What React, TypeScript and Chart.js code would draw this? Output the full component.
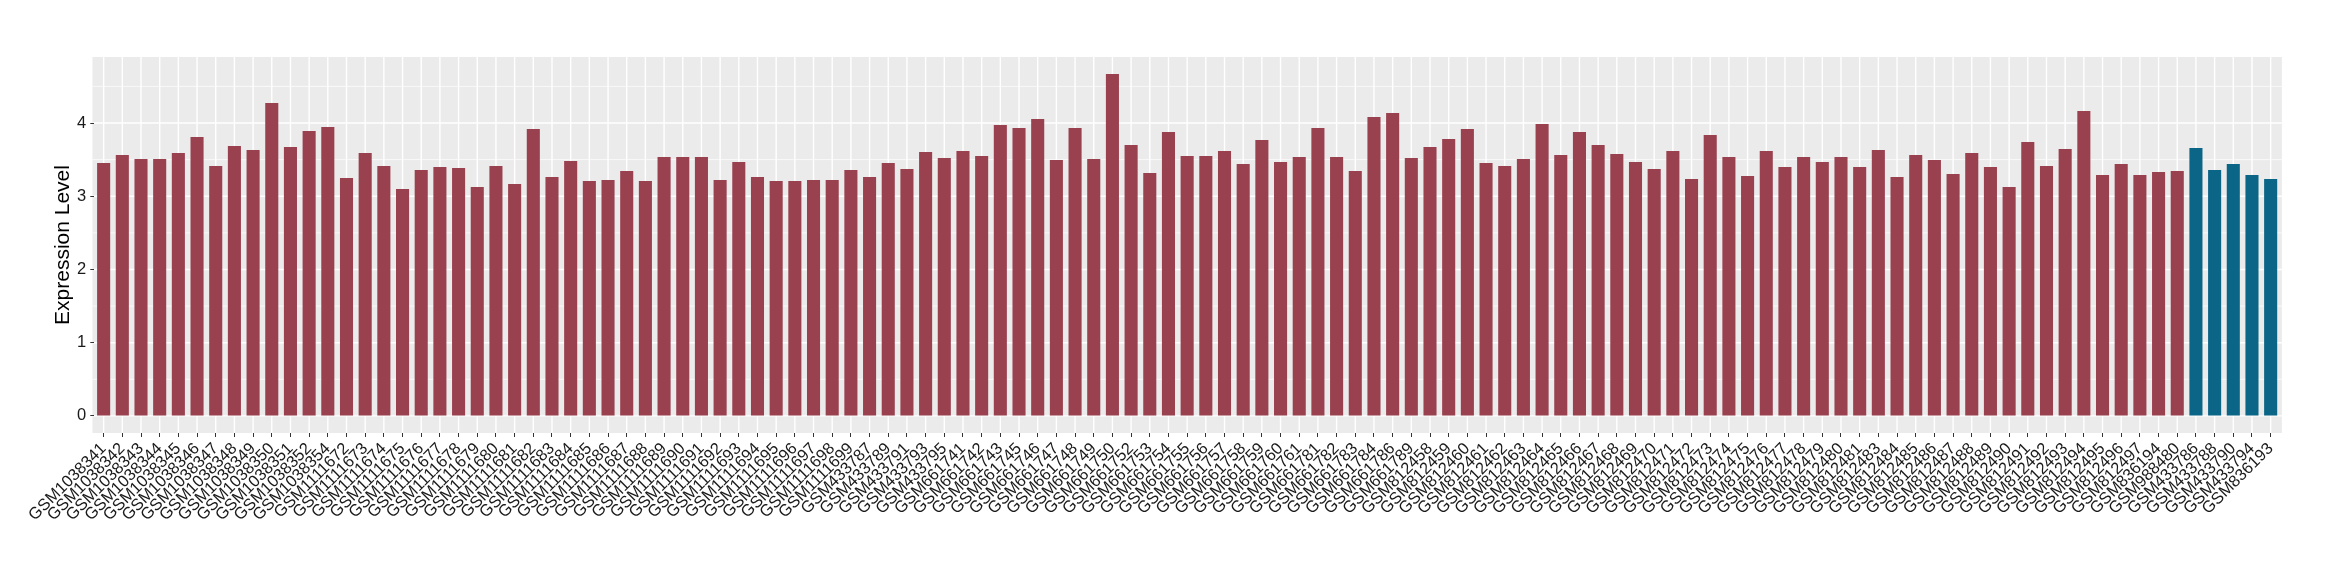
import React, { useEffect, useRef } from "react";
import { Chart, registerables } from "chart.js";

Chart.register(...registerables);

const samples: string[] = [
  "GSM1038341", "GSM1038342", "GSM1038343", "GSM1038344", "GSM1038345", "GSM1038346", "GSM1038347",
  "GSM1038348", "GSM1038349", "GSM1038350", "GSM1038351", "GSM1038352", "GSM1038354",
  "GSM1111672", "GSM1111673", "GSM1111674", "GSM1111675", "GSM1111676", "GSM1111677", "GSM1111678",
  "GSM1111679", "GSM1111680", "GSM1111681", "GSM1111682", "GSM1111683", "GSM1111684", "GSM1111685",
  "GSM1111686", "GSM1111687", "GSM1111688", "GSM1111689", "GSM1111690", "GSM1111691", "GSM1111692",
  "GSM1111693", "GSM1111694", "GSM1111695", "GSM1111696", "GSM1111697", "GSM1111698", "GSM1111699",
  "GSM433787", "GSM433789", "GSM433791", "GSM433793", "GSM433795",
  "GSM661741", "GSM661742", "GSM661743", "GSM661745", "GSM661746", "GSM661747", "GSM661748",
  "GSM661749", "GSM661750", "GSM661752", "GSM661753", "GSM661754", "GSM661755", "GSM661756",
  "GSM661757", "GSM661758", "GSM661759", "GSM661760", "GSM661761", "GSM661781", "GSM661782",
  "GSM661783", "GSM661784", "GSM661786", "GSM661789",
  "GSM812458", "GSM812459", "GSM812460", "GSM812461", "GSM812462", "GSM812463", "GSM812464",
  "GSM812465", "GSM812466", "GSM812467", "GSM812468", "GSM812469", "GSM812470", "GSM812471",
  "GSM812472", "GSM812473", "GSM812474", "GSM812475", "GSM812476", "GSM812477", "GSM812478",
  "GSM812479", "GSM812480", "GSM812481", "GSM812483", "GSM812484", "GSM812485", "GSM812486",
  "GSM812487", "GSM812488", "GSM812489", "GSM812490", "GSM812491", "GSM812492", "GSM812493",
  "GSM812494", "GSM812495", "GSM812496", "GSM812497", "GSM836194", "GSM988480",
  "GSM433786", "GSM433788", "GSM433790", "GSM433794", "GSM836193",
];

const expression: number[] = [
  3.455, 3.564, 3.509, 3.509, 3.59, 3.81, 3.414, 3.686, 3.632, 4.273, 3.673, 3.891, 3.945,
  3.25, 3.59, 3.414, 3.1, 3.359, 3.4, 3.386, 3.127, 3.414, 3.168, 3.918, 3.264, 3.482, 3.209,
  3.223, 3.345, 3.209, 3.536, 3.536, 3.536, 3.223, 3.468, 3.264, 3.209, 3.209, 3.223, 3.223, 3.359,
  3.264, 3.455, 3.373, 3.605, 3.523,
  3.618, 3.55, 3.973, 3.932, 4.055, 3.495, 3.932, 3.509, 4.668, 3.7, 3.318, 3.877, 3.55, 3.55,
  3.618, 3.441, 3.768, 3.468, 3.536, 3.932, 3.536, 3.345, 4.082, 4.136, 3.523,
  3.673, 3.782, 3.918, 3.455, 3.414, 3.509, 3.986, 3.564, 3.877, 3.7, 3.577, 3.468, 3.373, 3.618,
  3.236, 3.836, 3.536, 3.277, 3.618, 3.4, 3.536, 3.468, 3.536, 3.4, 3.632, 3.264, 3.564, 3.495,
  3.305, 3.59, 3.4, 3.127, 3.741, 3.414, 3.645, 4.164, 3.291, 3.441, 3.291, 3.332, 3.345,
  3.659, 3.359, 3.441, 3.291, 3.236,
];

const controlSamples: string[] = ["GSM433786", "GSM433788", "GSM433790", "GSM433794", "GSM836193"];

const yTicks: number[] = [0, 1, 2, 3, 4];
const yMinorTicks: number[] = [0.5, 1.5, 2.5, 3.5, 4.5];

const caseColor = "#9A4150";
const controlColor = "#0B6586";

export default function App() {
  const ref = useRef<HTMLCanvasElement>(null);

  useEffect(() => {
    document.body.style.margin = "0";
    const canvas = ref.current;
    if (!canvas) return;

    const dataMax = Math.max(...expression);
    const pad = dataMax * 0.05;

    const panelPlugin = {
      id: "ggpanel",
      beforeDraw(chart: any) {
        const { ctx, chartArea, scales } = chart;
        const { top, bottom, left, right } = chartArea;
        const unit = (right - left) / samples.length;
        const pl = left - 0.1 * unit;
        const pr = right + 0.1 * unit;
        ctx.save();
        ctx.fillStyle = "#EBEBEB";
        ctx.fillRect(pl, top, pr - pl, bottom - top);
        ctx.strokeStyle = "#FFFFFF";
        ctx.lineWidth = 0.7;
        for (const v of yMinorTicks) {
          const py = scales.y.getPixelForValue(v);
          ctx.beginPath();
          ctx.moveTo(pl, py);
          ctx.lineTo(pr, py);
          ctx.stroke();
        }
        ctx.lineWidth = 1.4;
        for (const v of yTicks) {
          const py = scales.y.getPixelForValue(v);
          ctx.beginPath();
          ctx.moveTo(pl, py);
          ctx.lineTo(pr, py);
          ctx.stroke();
        }
        for (let i = 0; i < samples.length; i++) {
          const px = scales.x.getPixelForValue(i);
          ctx.beginPath();
          ctx.moveTo(px, top);
          ctx.lineTo(px, bottom);
          ctx.stroke();
        }
        ctx.restore();
      },
    };

    Chart.defaults.font.family = "'Liberation Sans', Arial, sans-serif";

    const chart = new Chart(canvas, {
      type: "bar",
      data: {
        labels: samples,
        datasets: [
          {
            data: expression,
            backgroundColor: samples.map((s) => (controlSamples.includes(s) ? controlColor : caseColor)),
            borderWidth: 0,
            barPercentage: 0.7,
            categoryPercentage: 1,
          },
        ],
      },
      options: {
        responsive: false,
        animation: false,
        events: [],
        layout: { padding: { top: 57, right: 60, bottom: 0, left: 0 } },
        plugins: {
          legend: { display: false },
          tooltip: { enabled: false },
        },
        scales: {
          x: {
            offset: true,
            grid: {
              offset: false,
              drawOnChartArea: false,
              drawTicks: true,
              tickLength: 4,
              tickColor: "#333333",
              tickWidth: 1,
            },
            border: { display: false },
            ticks: {
              autoSkip: false,
              maxRotation: 45,
              minRotation: 45,
              padding: 2,
              color: "#1a1a1a",
              font: { size: 16.5 },
            },
            afterFit: (s: any) => {
              s.height = 147;
            },
          },
          y: {
            min: -pad,
            max: dataMax + pad,
            afterBuildTicks: (s: any) => {
              s.ticks = yTicks.map((v) => ({ value: v }));
            },
            grid: {
              drawOnChartArea: false,
              drawTicks: true,
              tickLength: 4,
              tickColor: "#333333",
              tickWidth: 1,
            },
            border: { display: false },
            ticks: {
              padding: 4,
              color: "#1a1a1a",
              font: { size: 16.5 },
              callback: (v: any) => String(v),
            },
            title: {
              display: true,
              text: "Expression Level",
              color: "#000000",
              font: { size: 21 },
              padding: { top: 51, bottom: 0 },
            },
            afterFit: (s: any) => {
              s.width = 94.3;
            },
          },
        },
      },
      plugins: [panelPlugin],
    });

    return () => chart.destroy();
  }, []);

  return (
    <div style={{ width: 2340, height: 580 }}>
      <canvas ref={ref} width={2340} height={580} style={{ display: "block" }} />
    </div>
  );
}
